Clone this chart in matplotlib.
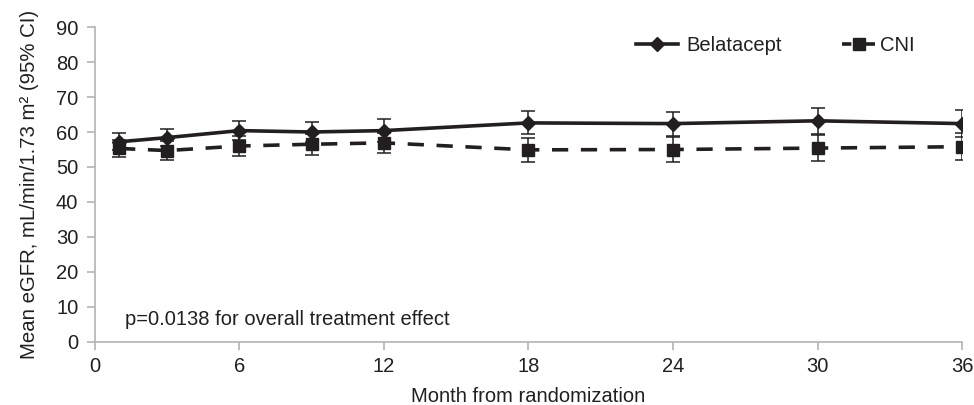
import matplotlib.pyplot as plt
from matplotlib.lines import Line2D

plt.rcParams['font.family'] = ['Liberation Sans', 'DejaVu Sans']

# months after randomization
months = [1, 3, 6, 9, 12, 18, 24, 30, 36]

# mean eGFR and half-width of 95% CI
bela_mean = [57.2, 58.4, 60.4, 60.0, 60.4, 62.6, 62.4, 63.2, 62.4]
bela_ci = [2.4, 2.5, 2.7, 2.8, 3.2, 3.3, 3.4, 3.7, 3.8]
cni_mean = [55.3, 54.7, 56.0, 56.5, 56.9, 54.9, 55.0, 55.4, 55.8]
cni_ci = [2.4, 2.7, 2.9, 3.0, 2.9, 3.5, 3.5, 3.7, 3.8]

x_ticks = [0, 6, 12, 18, 24, 30, 36]
y_ticks = list(range(0, 91, 10))

ink = '#231f20'
fs = 14.5

fig = plt.figure(figsize=(9.74, 4.05), dpi=100)
ax = fig.add_axes([0.0975, 0.1556, 0.8902, 0.7777])

cni_ls = (0, (4.5, 3.5))
ax.errorbar(months, cni_mean, yerr=cni_ci, color=ink, lw=2.6,
            ls=cni_ls, marker='s', ms=9, capsize=5, elinewidth=1.1,
            capthick=1.1, zorder=3)
ax.errorbar(months, bela_mean, yerr=bela_ci, color=ink, lw=2.6,
            ls='-', marker='D', ms=7, capsize=5, elinewidth=1.1,
            capthick=1.1, zorder=4)

ax.set_xlim(0, 36)
ax.set_ylim(0, 90)
ax.set_xticks(x_ticks)
ax.set_yticks(y_ticks)
for s in ['top', 'right']:
    ax.spines[s].set_visible(False)
for s in ['left', 'bottom']:
    ax.spines[s].set_color('#b3b3b3')
    ax.spines[s].set_linewidth(1.2)
ax.tick_params(colors='#b3b3b3', labelcolor=ink, labelsize=fs,
               length=6, width=1.2, direction='out')
ax.tick_params(axis='x', pad=5)
ax.tick_params(axis='y', pad=6)

ax.set_xlabel('Month from randomization', fontsize=fs, color=ink, labelpad=8)
ax.set_ylabel('Mean eGFR, mL/min/1.73 m² (95% CI)', fontsize=14.7,
              color=ink, labelpad=12)

ax.text(1.25, 6.3, 'p=0.0138 for overall treatment effect', fontsize=fs,
        color=ink, va='center')

# two separate legend entries so each handle can have its own length
bela_handle = Line2D([], [], color=ink, lw=2.6, ls='-', marker='D', ms=7)
cni_handle = Line2D([], [], color=ink, lw=2.6, ls=(0, (2.6, 0.7)),
                    marker='s', ms=9)
legend_kw = dict(frameon=False, fontsize=fs, loc='upper left',
                 bbox_transform=fig.transFigure, borderpad=0, borderaxespad=0)
leg1 = ax.legend([bela_handle], ['Belatacept'],
                 bbox_to_anchor=(636 / 974, 1 - 36 / 405),
                 handlelength=2.1, handletextpad=0.4, **legend_kw)
ax.add_artist(leg1)
leg2 = ax.legend([cni_handle], ['CNI'],
                 bbox_to_anchor=(842 / 974, 1 - 36 / 405),
                 handlelength=1.65, handletextpad=0.25, **legend_kw)
for lg in (leg1, leg2):
    for t in lg.get_texts():
        t.set_color(ink)

fig.savefig('out.png', dpi=100)
